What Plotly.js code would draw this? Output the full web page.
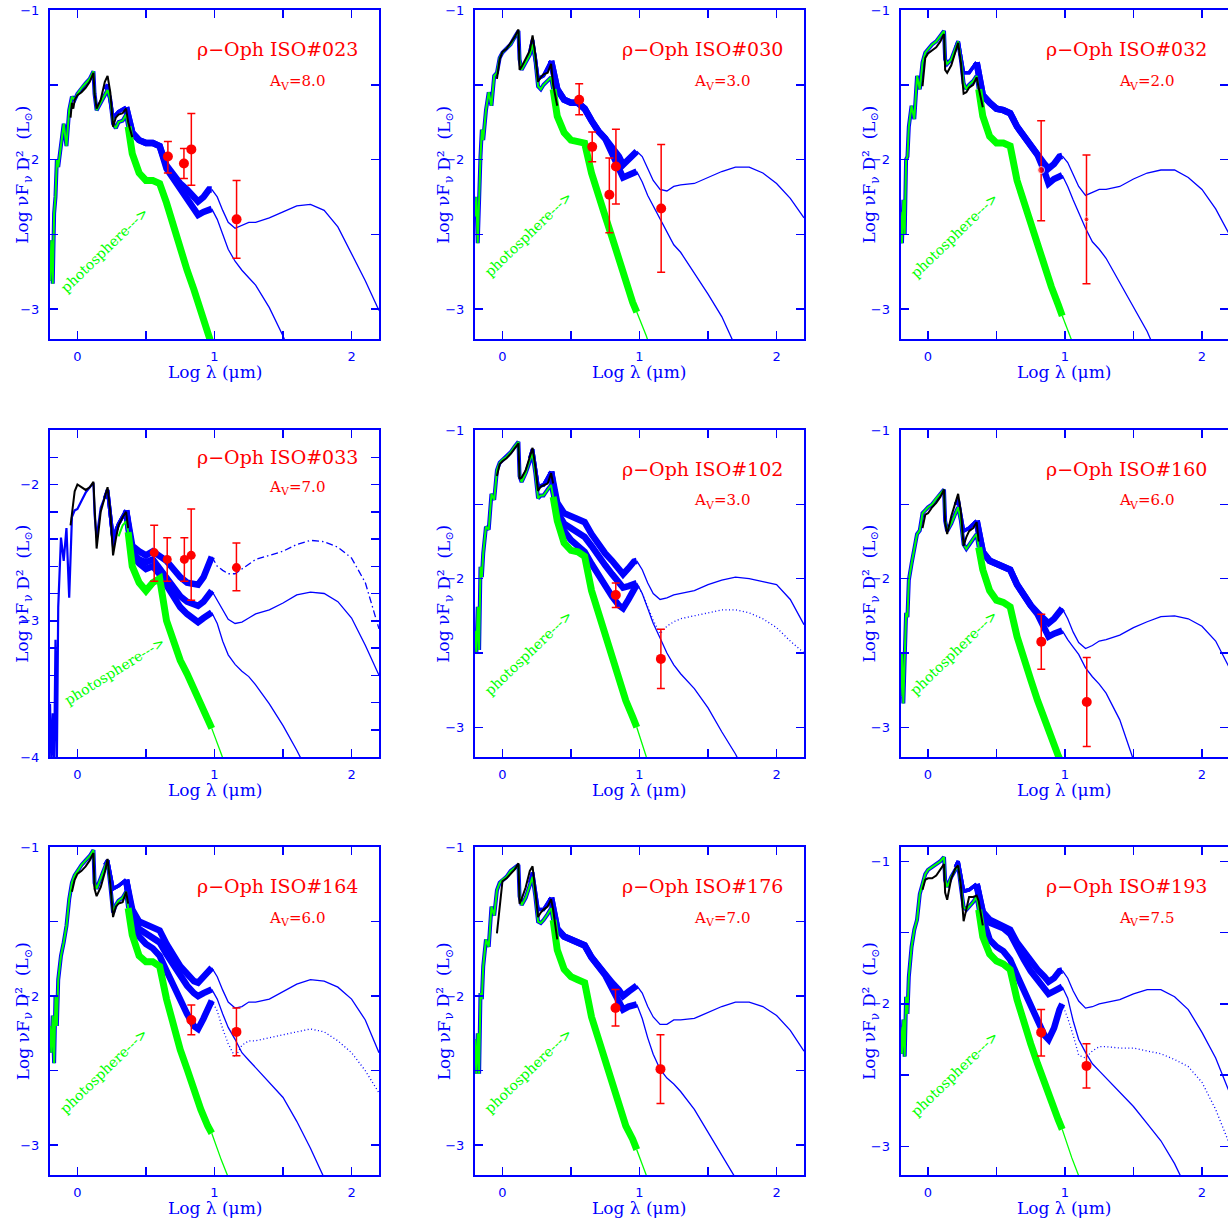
<!DOCTYPE html>
<html><head><meta charset="utf-8">
<script src="https://cdn.plot.ly/plotly-3.0.1.min.js"></script>
<style>html,body{margin:0;padding:0;background:#fff}#chart{width:1228px;height:1218px}</style>
</head><body><div id="chart"></div>
<script>
// ---------- shared wavelength grids (log lambda, micron) ----------
const NX = [-0.20,-0.19,-0.18,-0.17,-0.16,-0.15,-0.14,-0.12,-0.10,-0.08,-0.06,-0.04,-0.02,0.00,0.03,0.06,0.09,0.117,0.125,0.14,0.17,0.20,0.22,0.24,0.26,0.28,0.30,0.33,0.355,0.37,0.40,0.45,0.50,0.55,0.60,0.65,0.70,0.75,0.80,0.85,0.90,0.95,0.98,1.05,1.15];
const MX = [0.20,0.22,0.26,0.30,0.355,0.40,0.45,0.50,0.55,0.60,0.65,0.70,0.75,0.80,0.85,0.88,0.92,0.96,0.98,1.02,1.06,1.10,1.15,1.20,1.25,1.30,1.40,1.50,1.60,1.70,1.80,1.90,2.00,2.10,2.20];
const BX = [-0.05,-0.04,-0.03,-0.02,0.00,0.03,0.06,0.09,0.117,0.125,0.14,0.17,0.20,0.22,0.24,0.26,0.28,0.30,0.33,0.355,0.37,0.40];

// ---------- photospheres (green), on NX ----------
const PH1 = [-2.81,-2.54,-2.83,-2.36,-2.25,-2.00,-2.05,-1.91,-1.76,-1.91,-1.67,-1.58,-1.60,-1.56,-1.52,-1.49,-1.46,-1.41,-1.56,-1.67,-1.62,-1.56,-1.535,-1.60,-1.76,-1.79,-1.75,-1.74,-1.70,-1.78,-1.96,-2.09,-2.14,-2.14,-2.16,-2.29,-2.45,-2.61,-2.74,-2.87,-3.03,-3.16,-3.24,-3.42,-3.68];
const PH2 = [-2.38,-2.25,-2.56,-2.18,-1.98,-1.80,-1.87,-1.67,-1.55,-1.64,-1.44,-1.42,-1.32,-1.285,-1.26,-1.23,-1.18,-1.14,-1.33,-1.40,-1.35,-1.30,-1.23,-1.33,-1.51,-1.53,-1.50,-1.475,-1.45,-1.53,-1.71,-1.82,-1.87,-1.88,-1.89,-2.09,-2.25,-2.38,-2.52,-2.67,-2.83,-2.955,-3.02,-3.18,-3.45];
const PH3 = [-2.35,-2.56,-2.27,-2.50,-2.00,-1.98,-1.78,-1.64,-1.73,-1.44,-1.53,-1.35,-1.285,-1.26,-1.23,-1.21,-1.17,-1.14,-1.33,-1.36,-1.33,-1.26,-1.21,-1.33,-1.49,-1.53,-1.50,-1.475,-1.44,-1.53,-1.71,-1.845,-1.89,-1.89,-1.91,-2.14,-2.29,-2.43,-2.56,-2.72,-2.85,-2.97,-3.045,-3.21,-3.45];
const PH4 = [null,null,null,null,null,null,null,null,null,null,null,null,null,null,null,null,null,null,null,null,null,null,null,null,null,null,-2.38,-2.30,-2.27,-2.35,-2.60,-2.72,-2.78,-2.72,-2.69,-3.00,-3.16,-3.29,-3.39,-3.51,-3.63,-3.73,-3.79,-3.99,-4.25];
const PH5 = [-2.35,-2.50,-2.19,-2.48,-1.92,-1.99,-1.83,-1.65,-1.67,-1.43,-1.47,-1.27,-1.22,-1.20,-1.18,-1.15,-1.11,-1.08,-1.31,-1.35,-1.29,-1.20,-1.16,-1.29,-1.46,-1.44,-1.44,-1.40,-1.37,-1.45,-1.61,-1.76,-1.81,-1.82,-1.85,-2.08,-2.23,-2.37,-2.50,-2.66,-2.82,-2.93,-3.00,-3.20,-3.45];
const PH6 = [-2.79,-2.50,-2.84,-2.46,-2.23,-2.26,-2.01,-1.90,-1.81,-1.70,-1.675,-1.56,-1.54,-1.52,-1.50,-1.46,-1.43,-1.40,-1.61,-1.68,-1.63,-1.56,-1.52,-1.61,-1.77,-1.80,-1.77,-1.73,-1.70,-1.79,-1.94,-2.08,-2.145,-2.16,-2.19,-2.39,-2.55,-2.68,-2.82,-2.95,-3.09,-3.19,-3.25,-3.45,-3.70];
const PH7 = [-2.20,-2.38,-2.13,-2.45,-2.00,-2.20,-1.89,-1.73,-1.64,-1.53,-1.35,-1.24,-1.19,-1.16,-1.12,-1.09,-1.06,-1.02,-1.24,-1.28,-1.21,-1.15,-1.09,-1.26,-1.44,-1.39,-1.36,-1.34,-1.30,-1.41,-1.59,-1.73,-1.77,-1.77,-1.80,-2.02,-2.20,-2.36,-2.49,-2.63,-2.76,-2.87,-2.92,-3.10,-3.33];
const PH8 = [-2.29,-2.52,-2.25,-2.52,-1.98,-2.02,-1.80,-1.62,-1.67,-1.40,-1.46,-1.29,-1.24,-1.22,-1.20,-1.16,-1.14,-1.12,-1.33,-1.39,-1.34,-1.26,-1.20,-1.33,-1.50,-1.51,-1.49,-1.45,-1.41,-1.49,-1.69,-1.82,-1.87,-1.89,-1.91,-2.14,-2.29,-2.43,-2.56,-2.72,-2.87,-2.96,-3.03,-3.20,-3.45];
const PH9 = [-2.16,-2.35,-2.11,-2.37,-1.95,-2.07,-1.81,-1.60,-1.48,-1.41,-1.23,-1.16,-1.09,-1.06,-1.04,-1.02,-1.00,-0.97,-1.13,-1.18,-1.11,-1.06,-1.03,-1.18,-1.32,-1.34,-1.32,-1.285,-1.25,-1.34,-1.53,-1.65,-1.70,-1.72,-1.76,-1.97,-2.14,-2.28,-2.42,-2.56,-2.70,-2.81,-2.88,-3.08,-3.33];
// blue near-IR model of ISO#033 (on first 30 NX points)
const BN4 = [-3.61,-4.05,-3.68,-4.05,-3.14,-4.05,-2.90,-2.39,-2.56,-2.32,-2.83,-2.24,-2.19,-2.18,-2.12,-2.06,-2.02,-1.99,-2.22,-2.39,-2.17,-2.10,-2.04,-2.27,-2.46,-2.32,-2.29,-2.24,-2.19,-2.34];

// ---------- observed near-IR spectra (black), on BX ----------
const BK1 = [-1.72,-1.62,-1.66,-1.60,-1.57,-1.55,-1.52,-1.48,-1.42,-1.56,-1.66,-1.60,-1.48,-1.44,-1.55,-1.78,-1.72,-1.70,-1.69,-1.66,-1.75,-1.85];
const BK2 = [null,-1.46,-1.40,-1.33,-1.28,-1.26,-1.22,-1.18,-1.13,-1.40,-1.38,-1.32,-1.27,-1.17,-1.30,-1.48,-1.45,-1.43,-1.42,-1.36,-1.50,-1.64];
const BK3 = [null,-1.51,-1.42,-1.32,-1.29,-1.27,-1.25,-1.21,-1.16,-1.40,-1.42,-1.37,-1.28,-1.22,-1.35,-1.56,-1.55,-1.52,-1.50,-1.45,-1.52,-1.65];
const BK4 = [-2.30,-2.20,-2.12,-2.05,-2.00,-2.02,-2.04,-2.02,-1.98,-2.15,-2.47,-2.20,-2.09,-2.02,-2.20,-2.52,-2.40,-2.30,-2.24,-2.20,-2.32,null];
const BK5 = [null,-1.31,-1.26,-1.23,-1.21,-1.19,-1.16,-1.12,-1.09,-1.33,-1.32,-1.27,-1.17,-1.12,-1.25,-1.41,-1.38,-1.37,-1.36,-1.29,-1.36,null];
const BK6 = [null,-1.66,-1.60,-1.57,-1.56,-1.52,-1.49,-1.45,-1.40,-1.62,-1.70,-1.58,-1.49,-1.43,-1.55,-1.78,-1.72,-1.68,-1.66,-1.62,-1.75,null];
const BK7 = [null,-1.30,-1.26,-1.22,-1.18,-1.16,-1.13,-1.09,-1.04,-1.28,-1.33,-1.27,-1.17,-1.08,-1.25,-1.47,-1.40,-1.38,-1.37,-1.30,-1.38,null];
const BK8 = [null,-1.58,-1.48,-1.40,-1.23,-1.21,-1.18,-1.15,-1.11,-1.38,-1.35,-1.27,-1.16,-1.13,-1.30,-1.47,-1.44,-1.42,-1.40,-1.35,-1.42,-1.62];
const BK9 = [null,-1.20,-1.16,-1.13,-1.12,-1.12,-1.10,-1.06,-1.02,-1.22,-1.27,-1.12,-1.05,-1.03,-1.17,-1.42,-1.33,-1.25,-1.25,-1.24,-1.28,-1.45];

// ---------- disk models (blue), on MX ----------
const M1A = [-1.53,-1.50,-1.72,-1.68,-1.65,-1.82,-1.87,-1.89,-1.89,-1.91,-2.04,-2.10,-2.16,-2.20,-2.25,-2.28,-2.25,-2.20,-2.20,-2.25,-2.34,-2.42,-2.46,-2.44,-2.42,-2.42,-2.39,-2.35,-2.31,-2.30,-2.34,-2.45,-2.63,-2.81,-3.01];
const M1B = [-1.53,-1.50,-1.72,-1.68,-1.65,-1.82,-1.87,-1.89,-1.89,-1.91,-2.06,-2.13,-2.20,-2.26,-2.33,-2.37,-2.35,-2.33,-2.33,-2.40,-2.50,-2.60,-2.68,-2.74,-2.79,-2.84,-2.99,-3.18,-3.40,null,null,null,null,null,null];
const M2A = [-1.28,-1.20,-1.46,-1.44,-1.34,-1.53,-1.60,-1.62,-1.62,-1.66,-1.74,-1.81,-1.86,-1.92,-1.98,-2.035,-2.00,-1.955,-1.945,-1.98,-2.06,-2.14,-2.20,-2.21,-2.18,-2.17,-2.16,-2.12,-2.08,-2.05,-2.05,-2.09,-2.16,-2.26,-2.39];
const M2B = [-1.28,-1.20,-1.46,-1.44,-1.34,-1.53,-1.60,-1.62,-1.62,-1.66,-1.74,-1.81,-1.86,-1.95,-2.06,-2.12,-2.10,-2.08,-2.08,-2.15,-2.24,-2.31,-2.40,-2.49,-2.57,-2.62,-2.76,-2.90,-3.05,-3.24,-3.45,null,null,null,null];
const M3A = [-1.26,-1.21,-1.42,-1.42,-1.35,-1.57,-1.62,-1.66,-1.67,-1.69,-1.78,-1.845,-1.90,-1.96,-2.03,-2.06,-2.03,-1.98,-1.975,-2.02,-2.10,-2.18,-2.24,-2.22,-2.20,-2.20,-2.18,-2.13,-2.09,-2.07,-2.07,-2.12,-2.20,-2.33,-2.50];
const M3B = [-1.26,-1.21,-1.42,-1.42,-1.35,-1.57,-1.62,-1.66,-1.67,-1.69,-1.78,-1.845,-1.90,-1.97,-2.08,-2.16,-2.13,-2.11,-2.105,-2.18,-2.27,-2.36,-2.46,-2.55,-2.60,-2.66,-2.82,-2.99,-3.15,-3.36,null,null,null,null,null];
const M4A = [-2.10,-2.04,-2.40,-2.29,-2.19,-2.45,-2.49,-2.52,-2.49,-2.52,-2.56,-2.62,-2.68,-2.72,-2.73,-2.735,-2.68,-2.57,-2.53,-2.60,-2.63,-2.655,-2.655,-2.62,-2.58,-2.55,-2.52,-2.49,-2.44,-2.41,-2.42,-2.46,-2.54,-2.72,-3.06];
const M4B = [-2.10,-2.04,-2.40,-2.29,-2.19,-2.50,-2.55,-2.57,-2.55,-2.62,-2.68,-2.76,-2.82,-2.86,-2.88,-2.89,-2.86,-2.80,-2.78,-2.85,-2.93,-2.99,-3.02,-3.01,-2.98,-2.95,-2.92,-2.87,-2.81,-2.79,-2.80,-2.86,-2.98,-3.18,-3.40];
const M4C = [-2.10,-2.04,-2.40,-2.29,-2.19,-2.52,-2.58,-2.62,-2.60,-2.66,-2.74,-2.82,-2.90,-2.95,-2.99,-3.01,-2.98,-2.95,-2.94,-3.02,-3.15,-3.25,-3.32,-3.37,-3.41,-3.47,-3.61,-3.77,-3.95,-4.15,null,null,null,null,null];
const M5A = [-1.19,-1.13,-1.38,-1.37,-1.28,-1.49,-1.56,-1.58,-1.60,-1.62,-1.70,-1.77,-1.83,-1.88,-1.93,-1.97,-1.93,-1.885,-1.88,-1.94,-2.03,-2.10,-2.14,-2.13,-2.11,-2.10,-2.08,-2.04,-2.01,-1.99,-2.00,-2.02,-2.04,-2.14,-2.31];
const M5B = [-1.19,-1.13,-1.38,-1.37,-1.28,-1.55,-1.63,-1.66,-1.68,-1.72,-1.78,-1.85,-1.91,-1.97,-2.02,-2.06,-2.05,-2.04,-2.03,-2.10,-2.20,-2.30,-2.40,-2.50,-2.58,-2.64,-2.74,-2.87,-3.03,-3.18,-3.36,null,null,null,null];
const M5C = [-1.19,-1.13,-1.38,-1.37,-1.28,-1.58,-1.68,-1.74,-1.78,-1.82,-1.90,-1.98,-2.06,-2.12,-2.18,-2.20,-2.14,-2.06,-2.04,-2.10,-2.19,-2.28,-2.37,-2.32,-2.29,-2.27,-2.25,-2.23,-2.21,-2.21,-2.23,-2.27,-2.33,-2.42,-2.50];
const M6A = [-1.50,-1.47,-1.68,-1.66,-1.61,-1.82,-1.88,-1.90,-1.91,-1.94,-2.04,-2.12,-2.18,-2.23,-2.28,-2.30,-2.27,-2.21,-2.20,-2.27,-2.36,-2.43,-2.47,-2.45,-2.42,-2.41,-2.38,-2.33,-2.29,-2.255,-2.25,-2.27,-2.32,-2.42,-2.60];
const M6B = [-1.50,-1.47,-1.68,-1.66,-1.61,-1.82,-1.88,-1.90,-1.91,-1.94,-2.04,-2.12,-2.18,-2.24,-2.33,-2.39,-2.37,-2.35,-2.35,-2.41,-2.46,-2.51,-2.60,-2.66,-2.71,-2.77,-2.95,-3.22,-3.45,null,null,null,null,null,null];
const M7A = [-1.12,-1.09,-1.28,-1.26,-1.22,-1.42,-1.50,-1.52,-1.53,-1.56,-1.65,-1.73,-1.80,-1.85,-1.90,-1.91,-1.87,-1.82,-1.81,-1.87,-1.96,-2.04,-2.08,-2.07,-2.04,-2.04,-2.02,-1.97,-1.92,-1.89,-1.90,-1.94,-2.02,-2.16,-2.38];
const M7B = [-1.12,-1.09,-1.28,-1.26,-1.22,-1.45,-1.55,-1.58,-1.60,-1.64,-1.72,-1.79,-1.86,-1.93,-1.98,-2.00,-1.98,-1.96,-1.955,-2.02,-2.12,-2.21,-2.29,-2.38,-2.43,-2.48,-2.58,-2.68,-2.84,-3.02,-3.22,-3.42,null,null,null];
const M7C = [-1.12,-1.09,-1.28,-1.26,-1.22,-1.48,-1.60,-1.65,-1.68,-1.73,-1.83,-1.93,-2.02,-2.12,-2.20,-2.22,-2.15,-2.05,-2.03,-2.10,-2.22,-2.32,-2.41,-2.33,-2.30,-2.30,-2.28,-2.26,-2.24,-2.22,-2.24,-2.30,-2.38,-2.50,-2.65];
const M8A = [-1.24,-1.17,-1.42,-1.42,-1.34,-1.55,-1.60,-1.62,-1.63,-1.66,-1.74,-1.80,-1.86,-1.91,-1.96,-2.00,-1.97,-1.94,-1.93,-1.98,-2.07,-2.14,-2.19,-2.19,-2.16,-2.16,-2.15,-2.11,-2.07,-2.04,-2.04,-2.07,-2.13,-2.23,-2.37];
const M8B = [-1.24,-1.17,-1.42,-1.42,-1.34,-1.55,-1.60,-1.62,-1.63,-1.66,-1.74,-1.80,-1.86,-1.95,-2.03,-2.09,-2.07,-2.06,-2.055,-2.15,-2.28,-2.39,-2.49,-2.55,-2.59,-2.64,-2.76,-2.91,-3.06,-3.22,-3.40,null,null,null,null];
const M9A = [-1.04,-1.00,-1.21,-1.20,-1.16,-1.355,-1.41,-1.43,-1.45,-1.48,-1.57,-1.64,-1.70,-1.76,-1.81,-1.845,-1.82,-1.77,-1.765,-1.82,-1.91,-1.98,-2.03,-2.02,-2.00,-1.99,-1.97,-1.93,-1.90,-1.90,-1.95,-2.04,-2.20,-2.38,-2.62];
const M9B = [-1.04,-1.00,-1.21,-1.20,-1.16,-1.36,-1.43,-1.45,-1.47,-1.51,-1.61,-1.69,-1.77,-1.83,-1.89,-1.93,-1.91,-1.885,-1.88,-1.96,-2.12,-2.25,-2.34,-2.42,-2.47,-2.52,-2.62,-2.72,-2.84,-2.96,-3.12,-3.32,null,null,null];
const M9C = [-1.04,-1.00,-1.21,-1.20,-1.16,-1.40,-1.55,-1.60,-1.63,-1.69,-1.80,-1.91,-2.02,-2.13,-2.22,-2.25,-2.17,-2.04,-2.00,-2.10,-2.22,-2.36,-2.38,-2.33,-2.30,-2.30,-2.31,-2.31,-2.33,-2.35,-2.39,-2.44,-2.55,-2.74,-2.98];

// ---------- photometry (red) ----------
const RX1=[0.66,0.777,0.831,1.161], RY1=[-1.98,-2.026,-1.932,-2.40], RP1=[0.10,0.10,0.24,0.26], RM1=[0.11,0.10,0.24,0.26];
const RX2=[0.56,0.655,0.78,0.828,1.158], RY2=[-1.60,-1.915,-2.235,-2.047,-2.327], RP2=[0.107,0.10,0.245,0.25,0.427], RM2=[0.10,0.10,0.255,0.25,0.426];
const RX3=[0.826,1.157], RY3=[-2.07,-2.40], RP3=[0.33,0.43], RM3=[0.34,0.43];
const RX4=[0.56,0.655,0.78,0.83,1.16], RY4=[-2.50,-2.55,-2.55,-2.52,-2.61], RP4=[0.20,0.16,0.16,0.34,0.18], RM4=[0.21,0.16,0.16,0.33,0.17];
const RX5=[0.827,1.156], RY5=[-2.11,-2.54], RP5=[0.08,0.20], RM5=[0.085,0.20];
const RX6=[0.827,1.159], RY6=[-2.425,-2.83], RP6=[0.185,0.30], RM6=[0.185,0.30];
const RX7=[0.831,1.16], RY7=[-2.16,-2.24], RP7=[0.10,0.16], RM7=[0.10,0.16];
const RX8=[0.825,1.153], RY8=[-2.08,-2.49], RP8=[0.124,0.23], RM8=[0.12,0.23];
const RX9=[0.826,1.157], RY9=[-2.20,-2.435], RP9=[0.16,0.155], RM9=[0.165,0.155];

// ---------- labels ----------
const NAMES = ['ISO#023','ISO#030','ISO#032','ISO#033','ISO#102','ISO#160','ISO#164','ISO#176','ISO#193'];
const AVS = ['8.0','3.0','2.0','7.0','3.0','6.0','6.0','7.0','7.5'];
const XTICKS = [0,1,2], XTEXT = ['0','1','2'];
const YTICKS = [-3,-2,-1], YTEXT = ['\u22123','\u22122','\u22121'];
const YTICKS4 = [-4,-3,-2], YTEXT4 = ['\u22124','\u22123','\u22122'];

// ---------- styling / layout ----------
const BLUE='#0000ff', GREEN='#00ff00', RED='#ff0000', BLACK='#000000';
const FAM='DejaVu Serif';
const DOT='1px,2.5px', DASHDOT='7px,3px,1.5px,3px';
const COLS=[[0.04072,0.30863],[0.38681,0.65472],[0.73339,1.0]];
const XR=[[-0.2,2.2],[-0.2,2.2],[-0.2,2.19]];
const ROWS=[[0.72167,0.99179],[0.37849,0.64696],[0.03530,0.30460]];
const YR=[[-3.2,-1],[-3.2,-1],[-3.2,-1],[-4,-1.6],[-3.2,-1],[-3.2,-1],[-3.2,-1],[-3.2,-1],[-3.2,-0.9]];
const PHOTO_POS=[[0.196,-2.605,-44],[0.19,-2.50,-44],[0.195,-2.507,-44],[0.269,-3.367,-32],[0.188,-2.50,-44],[0.183,-2.497,-44],[0.19,-2.50,-44],[0.187,-2.504,-44],[0.19,-2.49,-44]];

const PANELS=[
 {ph:PH1,bk:BK1,mods:[M1A,M1B],dash:['solid','solid'],rx:RX1,ry:RY1,rp:RP1,rm:RM1,ms:10},
 {ph:PH2,bk:BK2,mods:[M2A,M2B],dash:['solid','solid'],rx:RX2,ry:RY2,rp:RP2,rm:RM2,ms:10},
 {ph:PH3,bk:BK3,mods:[M3A,M3B],dash:['solid','solid'],rx:RX3,ry:RY3,rp:RP3,rm:RM3,ms:[7,5]},
 {ph:PH4,bn:BN4,bk:BK4,mods:[M4A,M4B,M4C],dash:[DASHDOT,'solid','solid'],rx:RX4,ry:RY4,rp:RP4,rm:RM4,ms:9},
 {ph:PH5,bk:BK5,mods:[M5A,M5B,M5C],dash:['solid','solid',DOT],rx:RX5,ry:RY5,rp:RP5,rm:RM5,ms:10},
 {ph:PH6,bk:BK6,mods:[M6A,M6B],dash:['solid','solid'],rx:RX6,ry:RY6,rp:RP6,rm:RM6,ms:10},
 {ph:PH7,bk:BK7,mods:[M7A,M7B,M7C],dash:['solid','solid',DOT],rx:RX7,ry:RY7,rp:RP7,rm:RM7,ms:10},
 {ph:PH8,bk:BK8,mods:[M8A,M8B],dash:['solid','solid'],rx:RX8,ry:RY8,rp:RP8,rm:RM8,ms:10},
 {ph:PH9,bk:BK9,mods:[M9A,M9B,M9C],dash:['solid','solid',DOT],rx:RX9,ry:RY9,rp:RP9,rm:RM9,ms:10}
];

function sl(a,i0,i1){return a.slice(i0,i1+1);}
function line(x,y,xa,ya,color,width,dash){
  return {type:'scatter',mode:'lines',x:x,y:y,xaxis:xa,yaxis:ya,
    line:{color:color,width:width,dash:dash||'solid'},hoverinfo:'skip',showlegend:false,connectgaps:false};
}

// text with sub-scripted pieces, laid out piece by piece (measured with canvas)
const CTX=document.createElement('canvas').getContext('2d');
function textWidth(t,s){CTX.font=s+'px "'+FAM+'"';return CTX.measureText(t).width;}
function compose(pieces,base,align,vertical,color){
  const ws=pieces.map(function(p){return textWidth(p.t,p.s);});
  const W=ws.reduce(function(a,b){return a+b;},0);
  const start=(align==='right')?-W:-W/2;
  const s0=pieces[0].s; let off=0; const out=[];
  pieces.forEach(function(p,i){
    const c=start+off+ws[i]/2; off+=ws[i];
    const b=(p.d||0)-0.35*(p.s-s0);
    const a=Object.assign({},base,{text:p.t,showarrow:false,xanchor:'center',yanchor:'middle',borderpad:0,
      font:{family:FAM,size:p.s,color:color}});
    if(vertical){a.textangle=-90;a.yshift=c;a.xshift=b;}
    else{a.xshift=c;a.yshift=-b;}
    out.push(a);
  });
  return out;
}

const traces=[]; const layout={width:1228,height:1218,margin:{l:0,r:0,t:0,b:0},
  paper_bgcolor:'#ffffff',plot_bgcolor:'#ffffff',showlegend:false,annotations:[]};

PANELS.forEach(function(p,i){
  const k=i+1, sfx=(k===1?'':String(k));
  const xa='x'+sfx, ya='y'+sfx;
  const col=i%3, row=Math.floor(i/3);
  // blue near-IR (under photosphere)
  if(p.bn){ traces.push(line(sl(NX,0,29),p.bn,xa,ya,BLUE,2.2)); }
  else { traces.push(line(sl(NX,0,29),sl(p.ph,0,29),xa,ya,BLUE,4)); }
  // disk models
  p.mods.forEach(function(m,j){
    traces.push(line(sl(MX,0,4),sl(m,0,4),xa,ya,BLUE,3.5));
    traces.push(line(sl(MX,4,18),sl(m,4,18),xa,ya,BLUE,6.5));
    traces.push(line(sl(MX,18,34),sl(m,18,34),xa,ya,BLUE,1.3,p.dash[j]));
  });
  // photosphere
  traces.push(line(sl(NX,0,29),sl(p.ph,0,29),xa,ya,GREEN,2));
  traces.push(line(sl(NX,29,42),sl(p.ph,29,42),xa,ya,GREEN,7));
  traces.push(line(sl(NX,42,44),sl(p.ph,42,44),xa,ya,GREEN,1.3));
  // observed spectrum
  traces.push(line(BX,p.bk,xa,ya,BLACK,2));
  // photometry
  traces.push({type:'scatter',mode:'markers',x:p.rx,y:p.ry,xaxis:xa,yaxis:ya,showlegend:false,hoverinfo:'skip',
    marker:{color:RED,size:p.ms},
    error_y:{type:'data',symmetric:false,array:p.rp,arrayminus:p.rm,color:RED,thickness:1.5,width:4}});

  const axBase={showline:true,linecolor:BLUE,linewidth:2,mirror:'ticks',ticks:'inside',ticklen:8,tickwidth:1.5,
    tickcolor:BLUE,showgrid:false,zeroline:false,fixedrange:true,tickfont:{family:'DejaVu Sans',size:13,color:BLUE}};
  layout['xaxis'+sfx]=Object.assign({},axBase,{domain:COLS[col],range:XR[col],anchor:ya,
    tickmode:'array',tickvals:XTICKS,ticktext:XTEXT,ticklabelstandoff:4,
    minor:{tickmode:'linear',tick0:0,dtick:0.5,ticks:'inside',ticklen:8,tickwidth:1.5,tickcolor:BLUE,showgrid:false}});
  const y4=(k===4);
  layout['yaxis'+sfx]=Object.assign({},axBase,{domain:ROWS[row],range:YR[i],anchor:xa,
    tickmode:'array',tickvals:y4?YTICKS4:YTICKS,ticktext:y4?YTEXT4:YTEXT,ticklabelstandoff:6,
    minor:{tickmode:'linear',tick0:0,dtick:(y4?0.2:0.5),ticks:'inside',ticklen:8,tickwidth:1.5,tickcolor:BLUE,showgrid:false}});

  const xd=xa+' domain', yd=ya+' domain';
  // object name
  layout.annotations.push({xref:xd,yref:yd,x:0.942,y:(y4?0.916:0.88),xanchor:'right',yanchor:'middle',showarrow:false,
    text:'\u03c1\u2212Oph ISO#'+NAMES[i].slice(4),font:{family:FAM,size:19,color:RED}});
  // extinction A_V
  compose([{t:'A',s:15},{t:'V',s:11,d:4},{t:'='+AVS[i],s:15}],
    {xref:xd,yref:yd,x:0.836,y:(y4?0.827:0.785)},'right',false,RED).forEach(function(a){layout.annotations.push(a);});
  // photosphere label
  const pp=PHOTO_POS[i];
  layout.annotations.push({xref:xa,yref:ya,x:pp[0],y:pp[1],xanchor:'center',yanchor:'middle',showarrow:false,
    textangle:pp[2],text:'photosphere--->',font:{family:FAM,size:14,color:GREEN}});
  // y axis title
  compose([{t:'Log\u00a0\u03bdF',s:17},{t:'\u03bd',s:12,d:4},{t:'\u00a0D\u00b2\u00a0\u00a0(L',s:17},{t:'\u2299',s:11,d:4},{t:')',s:17}],
    {xref:xd,yref:yd,x:(col===0?-0.084:-0.096),y:0.5},'center',true,BLUE).forEach(function(a){layout.annotations.push(a);});
  // x axis title
  layout.annotations.push({xref:xd,yref:yd,x:0.5,y:-0.1,xanchor:'center',yanchor:'middle',showarrow:false,
    text:'Log \u03bb (\u03bcm)',font:{family:FAM,size:17,color:BLUE}});
});

Plotly.newPlot('chart',traces,layout,{staticPlot:true,displayModeBar:false});
</script></body></html>
